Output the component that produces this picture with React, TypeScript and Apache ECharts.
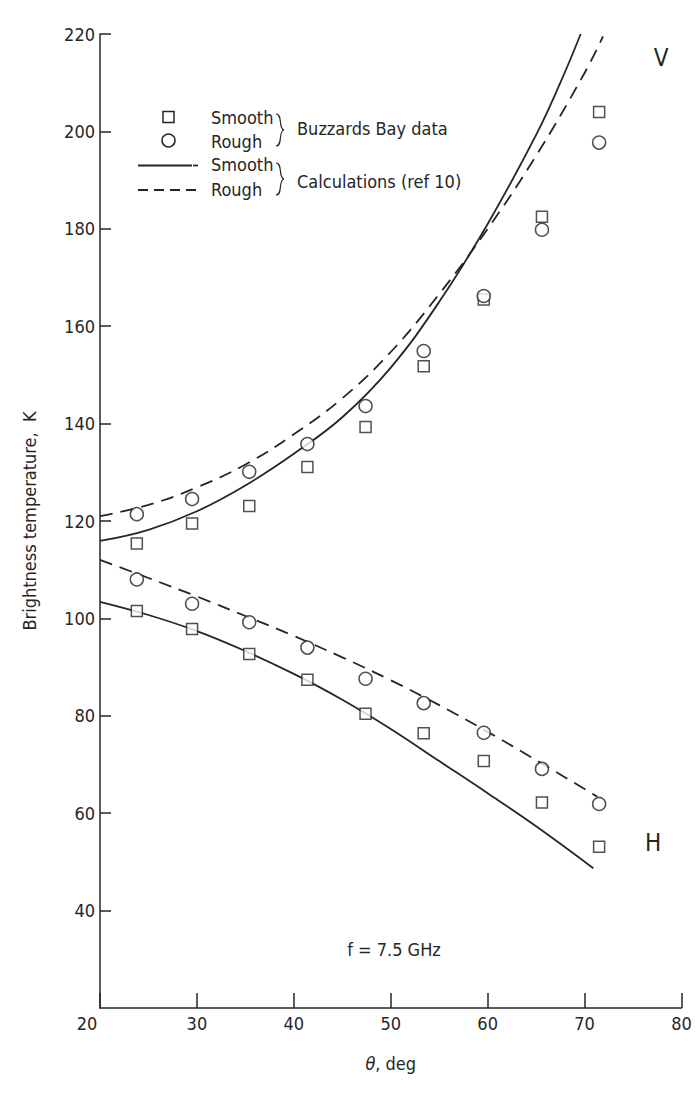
import React, { useEffect, useRef } from "react";
import * as echarts from "echarts";

const FONT = "'Liberation Sans Narrow', 'DejaVu Sans Condensed', 'Liberation Sans', sans-serif";
const INK = "#262626";

// Measured data (theta in degrees)
const theta = [23.8, 29.5, 35.4, 41.4, 47.4, 53.4, 59.6, 65.6, 71.5];
const vSmoothData = [115.4, 119.5, 123.1, 131.1, 139.3, 151.8, 165.5, 182.5, 204.0];
const vRoughData = [121.4, 124.5, 130.1, 135.8, 143.6, 154.9, 166.2, 179.8, 197.7];
const hSmoothData = [101.5, 97.8, 92.7, 87.4, 80.4, 76.4, 70.7, 62.2, 53.1];
const hRoughData = [108.0, 103.0, 99.2, 94.0, 87.6, 82.6, 76.5, 69.1, 61.9];

// Calculations (ref 10)
const vSmoothCalcTheta = [20, 25, 30, 35, 40, 45, 50, 55, 60, 65, 67.5, 69.6];
const vSmoothCalc = [115.9, 118.2, 122.0, 127.3, 133.8, 141.3, 151.5, 165.0, 181.0, 199.3, 210.0, 220.0];
const vRoughCalcTheta = [20, 25, 30, 35, 40, 45, 50, 55, 60, 65, 70, 71.9];
const vRoughCalc = [121.0, 123.3, 126.9, 131.6, 137.8, 145.2, 154.7, 166.6, 180.0, 195.0, 212.0, 219.5];
const hSmoothCalcTheta = [20, 25, 30, 35, 40, 45, 50, 55, 60, 65, 70.9];
const hSmoothCalc = [103.4, 100.7, 97.4, 93.3, 88.6, 83.3, 77.3, 70.7, 64.1, 57.3, 48.7];
const hRoughCalcTheta = [20, 25, 30, 35, 40, 45, 50, 55, 60, 65, 71.3];
const hRoughCalc = [112.0, 108.3, 104.5, 100.5, 96.4, 92.0, 87.3, 82.2, 76.7, 70.9, 63.4];

const zip = (xs: number[], ys: number[]) => xs.map((x, i) => [x, ys[i]]);

export default function App() {
  const ref = useRef<HTMLDivElement>(null);
  useEffect(() => {
    if (!ref.current) return;
    const chart = echarts.init(ref.current, null, { renderer: "svg" });
    const sqStyle = { color: "#fff", borderColor: INK, borderWidth: 1.5 };
    const lineSolid = { color: INK, width: 1.8, type: "solid" };
    const lineDash = { color: INK, width: 1.8, type: [13, 8] };
    const txt = (x: number, y: number, text: string, size = 18, align = "left") => ({
      type: "text",
      x,
      y,
      style: { text, fontSize: size, fontFamily: FONT, fill: INK, textAlign: align, textVerticalAlign: "middle" },
    });
    const brace = (x: number, yTop: number, yBot: number) => {
      const yMid = (yTop + yBot) / 2;
      const st = { stroke: INK, lineWidth: 1.2, fill: "none" };
      return [
        { type: "bezierCurve", shape: { x1: x - 3, y1: yTop, cpx1: x + 4, cpy1: yTop, cpx2: x - 1, cpy2: yMid - 1, x2: x + 5, y2: yMid }, style: st },
        { type: "bezierCurve", shape: { x1: x + 5, y1: yMid, cpx1: x - 1, cpy1: yMid + 1, cpx2: x + 4, cpy2: yBot, x2: x - 3, y2: yBot }, style: st },
      ];
    };
    const option = {
      animation: false,
      backgroundColor: "#fff",
      textStyle: { fontFamily: FONT },
      grid: { left: 100, right: 15.5, top: 34, bottom: 93 },
      xAxis: {
        type: "value",
        min: 20,
        max: 80,
        interval: 10,
        axisLine: { show: true, lineStyle: { color: INK, width: 1.5 } },
        axisTick: { show: true, inside: true, length: 15, lineStyle: { color: INK, width: 1.5 } },
        splitLine: { show: false },
        axisLabel: {
          fontSize: 18,
          color: INK,
          fontFamily: FONT,
          margin: 6,
          formatter: (v: number) => (v === 20 ? "{l|20}" : String(v)),
          rich: { l: { fontSize: 18, color: INK, fontFamily: FONT, padding: [0, 26, 0, 0] } },
        },
        name: "{i|θ}, deg",
        nameLocation: "middle",
        nameGap: 46,
        nameTextStyle: {
          fontSize: 18,
          color: INK,
          fontFamily: FONT,
          rich: { i: { fontStyle: "italic", fontSize: 18, color: INK, fontFamily: FONT } },
        },
      },
      yAxis: {
        type: "value",
        min: 20,
        max: 220,
        interval: 20,
        axisLine: { show: true, lineStyle: { color: INK, width: 1.5 } },
        axisTick: { show: true, inside: true, length: 11, lineStyle: { color: INK, width: 1.5 } },
        splitLine: { show: false },
        axisLabel: { fontSize: 18, color: INK, fontFamily: FONT, margin: 5, showMinLabel: false },
        name: "Brightness temperature,  K",
        nameLocation: "middle",
        nameGap: 62,
        nameTextStyle: { fontSize: 18, color: INK, fontFamily: FONT },
      },
      series: [
        { type: "line", data: zip(vSmoothCalcTheta, vSmoothCalc), smooth: 0.4, showSymbol: false, lineStyle: lineSolid, z: 2 },
        { type: "line", data: zip(vRoughCalcTheta, vRoughCalc), smooth: 0.4, showSymbol: false, lineStyle: lineDash, z: 2 },
        { type: "line", data: zip(hSmoothCalcTheta, hSmoothCalc), smooth: 0.4, showSymbol: false, lineStyle: lineSolid, z: 2 },
        { type: "line", data: zip(hRoughCalcTheta, hRoughCalc), smooth: 0.4, showSymbol: false, lineStyle: lineDash, z: 2 },
        { type: "scatter", data: zip(theta, vSmoothData), symbol: "rect", symbolSize: 11, itemStyle: sqStyle, z: 4 },
        { type: "scatter", data: zip(theta, hSmoothData), symbol: "rect", symbolSize: 11, itemStyle: sqStyle, z: 4 },
        { type: "scatter", data: zip(theta, vRoughData), symbol: "circle", symbolSize: 13, itemStyle: sqStyle, z: 4 },
        { type: "scatter", data: zip(theta, hRoughData), symbol: "circle", symbolSize: 13, itemStyle: sqStyle, z: 4 },
      ],
      graphic: [
        { type: "rect", shape: { x: 163, y: 111.5, width: 11, height: 11 }, style: { fill: "#fff", stroke: INK, lineWidth: 1.5 } },
        { type: "circle", shape: { cx: 168.5, cy: 140.5, r: 6.5 }, style: { fill: "#fff", stroke: INK, lineWidth: 1.5 } },
        { type: "line", shape: { x1: 138, y1: 165.5, x2: 192, y2: 165.5 }, style: { stroke: INK, lineWidth: 1.8 } },
        { type: "line", shape: { x1: 193, y1: 165.5, x2: 198, y2: 165.5 }, style: { stroke: INK, lineWidth: 1.8 } },
        { type: "line", shape: { x1: 138, y1: 190, x2: 198, y2: 190 }, style: { stroke: INK, lineWidth: 1.8, lineDash: [10, 6] } },
        txt(211, 117, "Smooth"),
        txt(211, 141, "Rough"),
        txt(211, 164, "Smooth"),
        txt(211, 189, "Rough"),
        ...brace(279, 114, 146),
        ...brace(279, 163, 195),
        txt(297, 128.5, "Buzzards Bay data"),
        txt(297, 181.5, "Calculations (ref 10)"),
        txt(661, 58, "V", 24, "center"),
        txt(653, 843, "H", 24, "center"),
        txt(394, 949, "f = 7.5 GHz", 18, "center"),
      ],
    };
    chart.setOption(option as any);
    return () => chart.dispose();
  }, []);
  return <div ref={ref} style={{ position: "absolute", left: 0, top: 0, width: 697, height: 1101 }} />;
}
